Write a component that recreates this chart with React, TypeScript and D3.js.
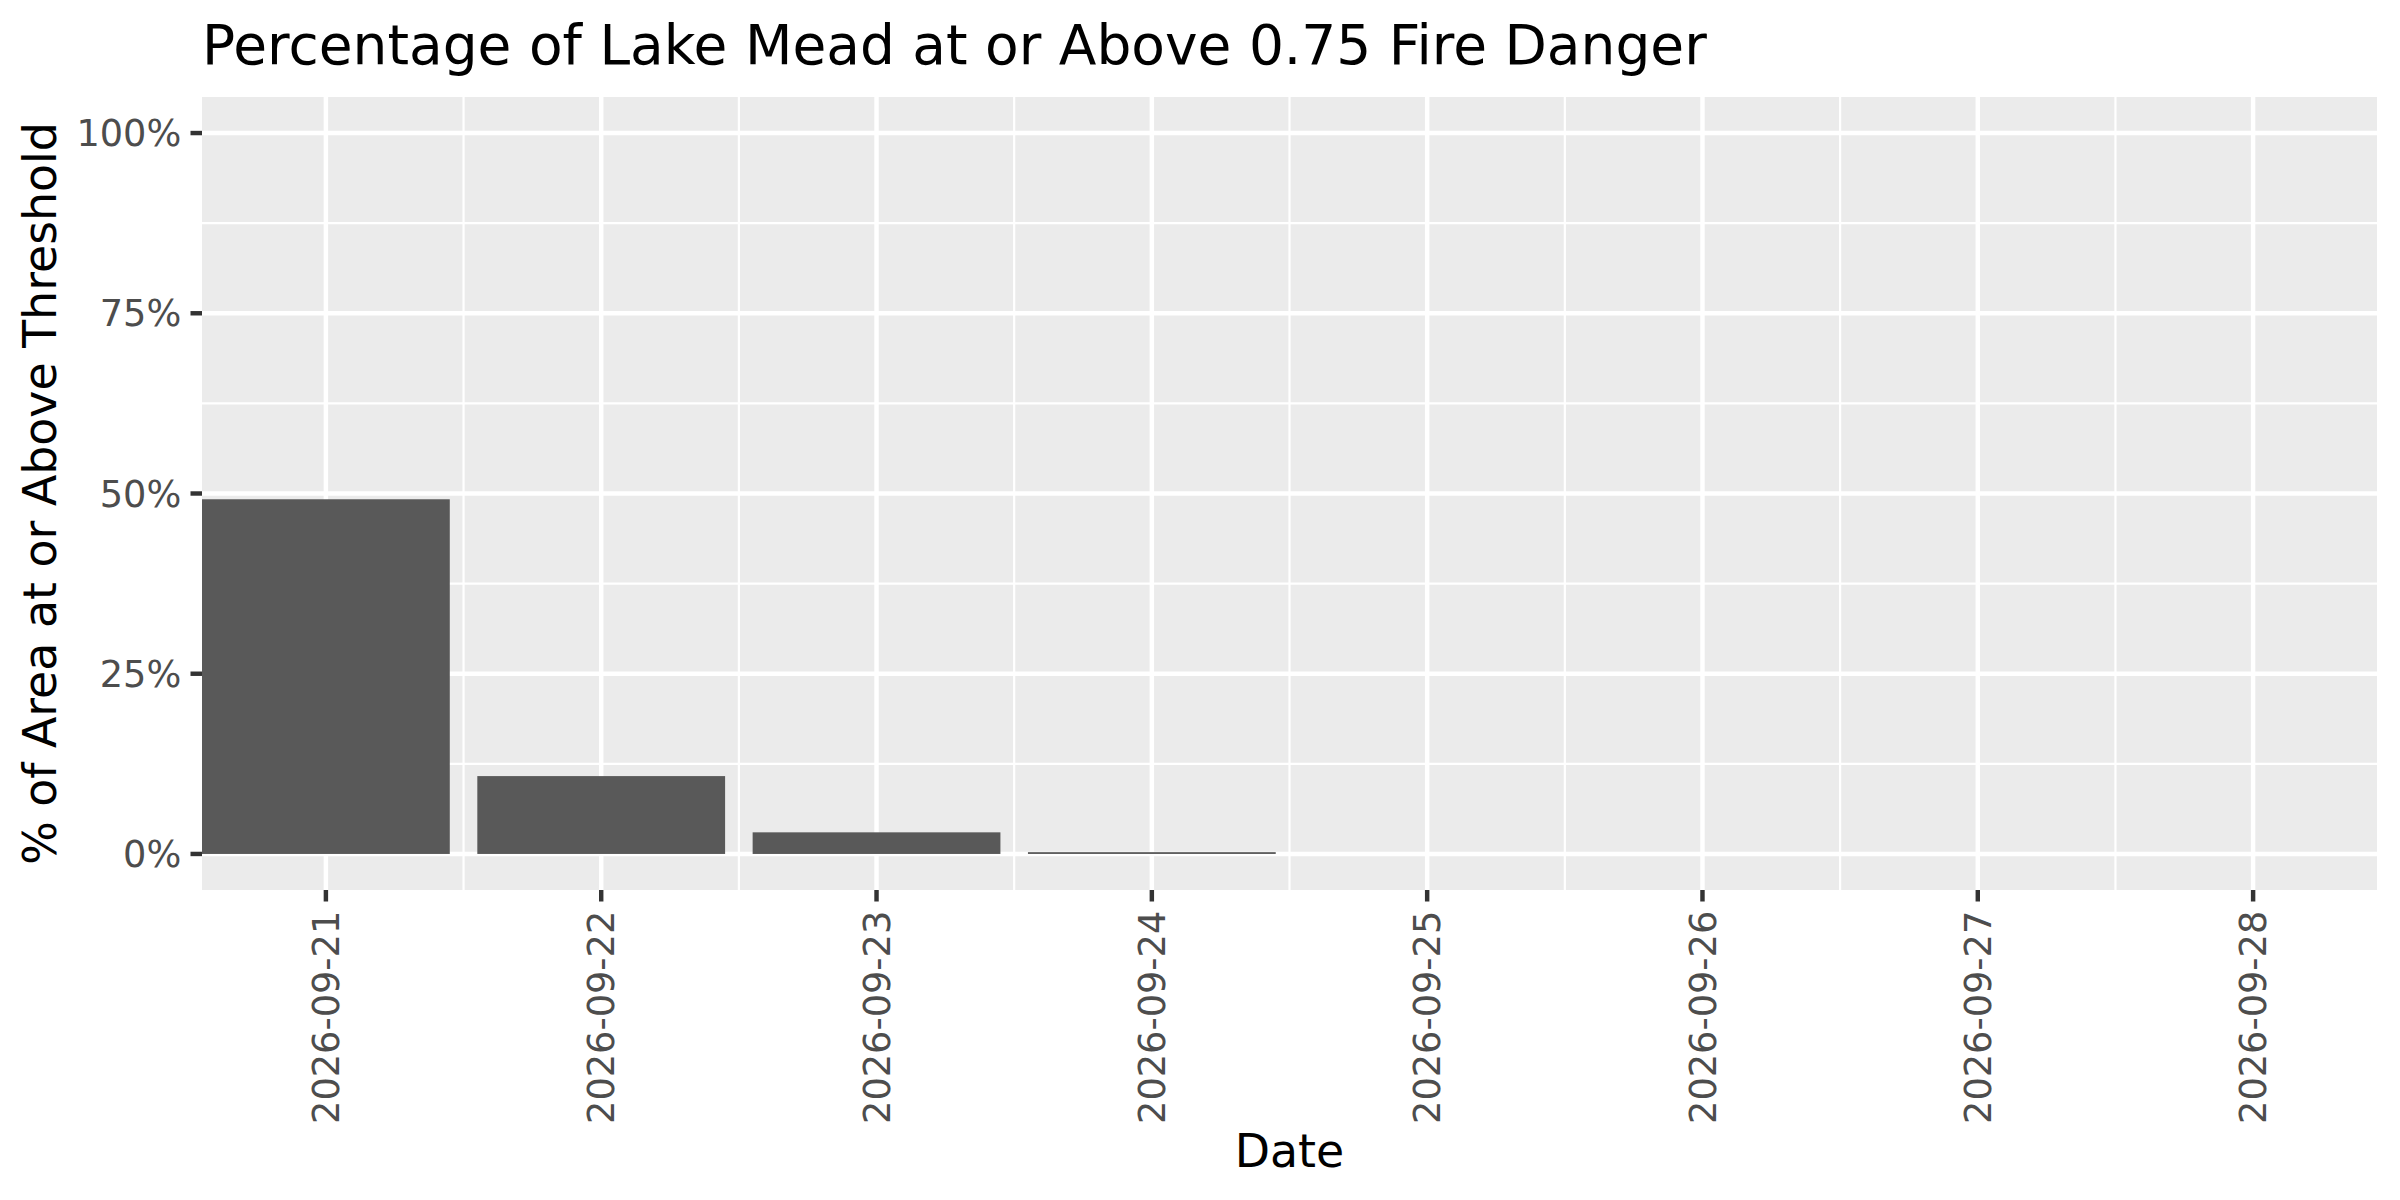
import * as React from 'react';
import { scaleLinear, scaleUtc, utcDay, utcHour, utcMinute } from 'd3';

// data
const dateLabels = [
    '2026-09-21', '2026-09-22', '2026-09-23', '2026-09-24',
    '2026-09-25', '2026-09-26', '2026-09-27', '2026-09-28'
];
const pctValues = [49.2, 10.8, 3.0, 0.25, 0, 0, 0, 0];
const yTicks = [0, 25, 50, 75, 100];
const yMinor = [12.5, 37.5, 62.5, 87.5];

const titleText = 'Percentage of Lake Mead at or Above 0.75 Fire Danger';
const xTitle = 'Date';
const yTitle = '% of Area at or Above Threshold';

const W = 2400;
const H = 1200;
const panel = { left: 202, right: 2377, top: 97, bottom: 890 };
const font = '"DejaVu Sans", "Noto Sans", sans-serif';
const tickLen = 11.5;
const tickGap = 9.2;

const dates = dateLabels.map(s => new Date(s + 'T00:00:00Z'));
const halfBar = (d: Date, sign: number) =>
    utcMinute.offset(utcHour.offset(d, sign * 10), sign * 48); // 0.45 day

// x: bars span 0.9 day, no expansion on the date scale
const xScale = scaleUtc()
    .domain([halfBar(dates[0], -1), halfBar(dates[dates.length - 1], 1)])
    .range([panel.left, panel.right]);

// y: 0..100 with 5% expansion
const yScale = scaleLinear()
    .domain([-5, 105])
    .range([panel.bottom, panel.top]);

const xMinor = dates.slice(0, -1).map(d => utcHour.offset(d, 12));

export default function App() {
    return (
        <svg
            width={W}
            height={H}
            style={{ position: 'absolute', left: 0, top: 0, background: '#ffffff' }}
            fontFamily={font}
        >
            <rect x={0} y={0} width={W} height={H} fill="#ffffff" />
            <rect
                x={panel.left}
                y={panel.top}
                width={panel.right - panel.left}
                height={panel.bottom - panel.top}
                fill="#EBEBEB"
            />
            {/* minor grid */}
            {yMinor.map(v => (
                <line key={'ym' + v} x1={panel.left} x2={panel.right}
                    y1={yScale(v)} y2={yScale(v)} stroke="#fff" strokeWidth={2.2} />
            ))}
            {xMinor.map((d, i) => (
                <line key={'xm' + i} y1={panel.top} y2={panel.bottom}
                    x1={xScale(d)} x2={xScale(d)} stroke="#fff" strokeWidth={2.2} />
            ))}
            {/* major grid */}
            {yTicks.map(v => (
                <line key={'yg' + v} x1={panel.left} x2={panel.right}
                    y1={yScale(v)} y2={yScale(v)} stroke="#fff" strokeWidth={4.45} />
            ))}
            {dates.map((d, i) => (
                <line key={'xg' + i} y1={panel.top} y2={panel.bottom}
                    x1={xScale(d)} x2={xScale(d)} stroke="#fff" strokeWidth={4.45} />
            ))}
            {/* bars */}
            {dates.map((d, i) => {
                const x0 = xScale(halfBar(d, -1));
                const x1 = xScale(halfBar(d, 1));
                const y0 = yScale(0);
                const y1 = yScale(pctValues[i]);
                return pctValues[i] > 0 ? (
                    <rect key={'b' + i} x={x0} y={y1} width={x1 - x0}
                        height={y0 - y1} fill="#595959" />
                ) : null;
            })}
            {/* y axis */}
            {yTicks.map(v => (
                <g key={'yt' + v}>
                    <line x1={panel.left - tickLen} x2={panel.left}
                        y1={yScale(v)} y2={yScale(v)} stroke="#333333" strokeWidth={4.45} />
                    <text x={panel.left - tickLen - tickGap} y={yScale(v)} dy="0.36em"
                        textAnchor="end" fontSize={36.7} fill="#4D4D4D">{v}%</text>
                </g>
            ))}
            {/* x axis */}
            {dates.map((d, i) => {
                const x = xScale(d);
                const y = panel.bottom + tickLen + tickGap;
                return (
                    <g key={'xt' + i}>
                        <line x1={x} x2={x} y1={panel.bottom} y2={panel.bottom + tickLen}
                            stroke="#333333" strokeWidth={4.45} />
                        <text transform={`translate(${x},${y}) rotate(-90)`} dy="0.36em"
                            textAnchor="end" fontSize={36.7} fill="#4D4D4D">{dateLabels[i]}</text>
                    </g>
                );
            })}
            {/* titles */}
            <text x={panel.left} y={63.5} fontSize={55} fill="#000">{titleText}</text>
            <text x={(panel.left + panel.right) / 2} y={1167} textAnchor="middle"
                fontSize={45.8} fill="#000">{xTitle}</text>
            <text transform={`translate(56,${(panel.top + panel.bottom) / 2}) rotate(-90)`}
                textAnchor="middle" fontSize={45.8} fill="#000">{yTitle}</text>
        </svg>
    );
}
